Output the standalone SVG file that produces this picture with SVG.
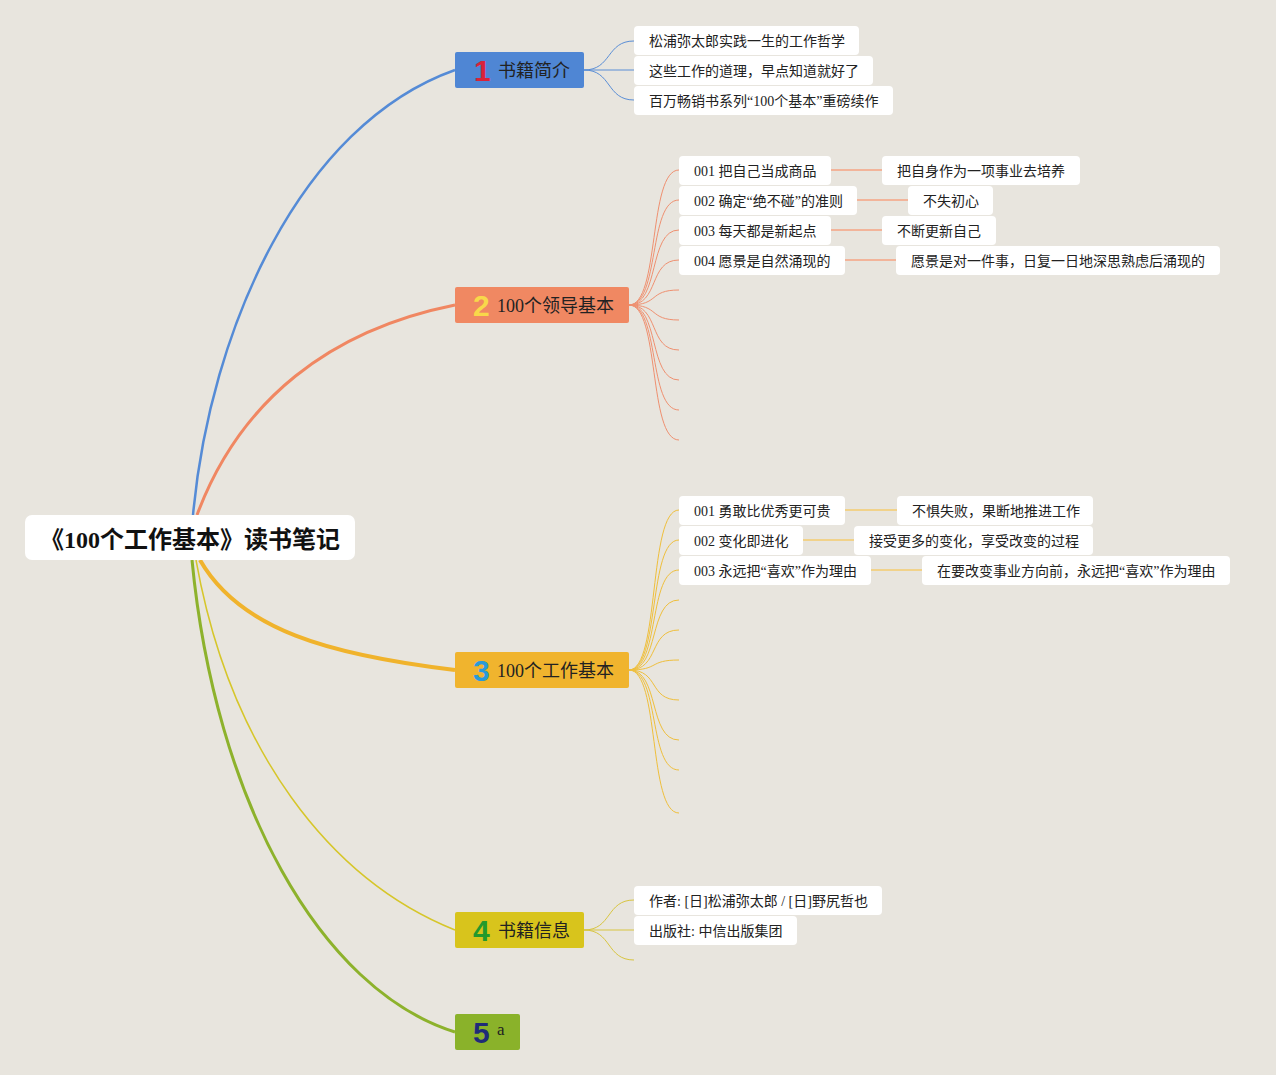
<svg xmlns="http://www.w3.org/2000/svg" width="1276" height="1075" viewBox="0 0 1276 1075">
<style>
.leaf{fill:#ffffff;}
.lt{font-family:"Liberation Serif","Noto Sans CJK SC",serif;font-size:14px;fill:#222;}
.bt{font-family:"Liberation Serif","Noto Sans CJK SC",serif;font-size:18px;fill:#222;}
.num{font-family:"Liberation Sans","DejaVu Sans",sans-serif;font-size:30px;font-weight:bold;}
.root{font-family:"Liberation Serif","Noto Sans CJK SC",serif;font-size:24px;font-weight:bold;fill:#111;}
.c1{fill:none;stroke:#5a8ed6;stroke-width:1;}
.c2{fill:none;stroke:#ef9070;stroke-width:1;}
.c3{fill:none;stroke:#efbf3c;stroke-width:1;}
.c4{fill:none;stroke:#d8c540;stroke-width:1;}
.s2{fill:none;stroke:#f2b49a;stroke-width:2;}
.s3{fill:none;stroke:#f1d28a;stroke-width:2;}
</style>
<rect x="0" y="0" width="1276" height="1075" fill="#e8e5de"/>
<g id="connectors">
<path d="M193,515 C210,330 300,125 455,70" fill="none" stroke="#558bd6" stroke-width="2.5"/>
<path d="M197,515 C240,400 330,330 455,305" fill="none" stroke="#f08762" stroke-width="3"/>
<path d="M200,560 C240,630 330,655 455,670" fill="none" stroke="#f0b32c" stroke-width="4"/>
<path d="M196,560 C230,750 330,880 455,930" fill="none" stroke="#d6c62a" stroke-width="1.5"/>
<path d="M192,560 C215,800 320,990 455,1032" fill="none" stroke="#8db22c" stroke-width="3"/>
<path class="c1" d="M584,70 C612,70 606,41 634,41"/>
<path class="c1" d="M584,70 L634,70"/>
<path class="c1" d="M584,70 C612,70 606,100 634,100"/>
<path class="c2" d="M629,305 C660,305 648,170 679,170"/>
<path class="c2" d="M629,305 C660,305 648,200 679,200"/>
<path class="c2" d="M629,305 C660,305 648,230 679,230"/>
<path class="c2" d="M629,305 C660,305 648,260 679,260"/>
<path class="c2" d="M629,305 C660,305 648,290 679,290"/>
<path class="c2" d="M629,305 C660,305 648,320 679,320"/>
<path class="c2" d="M629,305 C660,305 648,350 679,350"/>
<path class="c2" d="M629,305 C660,305 648,380 679,380"/>
<path class="c2" d="M629,305 C660,305 648,410 679,410"/>
<path class="c2" d="M629,305 C660,305 648,440 679,440"/>
<path class="s2" d="M831,170 L882,170"/>
<path class="s2" d="M857,200 L908,200"/>
<path class="s2" d="M831,230 L882,230"/>
<path class="s2" d="M845,260 L896,260"/>
<path class="c3" d="M629,670 C660,670 648,510 679,510"/>
<path class="c3" d="M629,670 C660,670 648,540 679,540"/>
<path class="c3" d="M629,670 C660,670 648,570 679,570"/>
<path class="c3" d="M629,670 C660,670 648,600 679,600"/>
<path class="c3" d="M629,670 C660,670 648,630 679,630"/>
<path class="c3" d="M629,670 C660,670 648,660 679,660"/>
<path class="c3" d="M629,670 C660,670 648,700 679,700"/>
<path class="c3" d="M629,670 C660,670 648,740 679,740"/>
<path class="c3" d="M629,670 C660,670 648,770 679,770"/>
<path class="c3" d="M629,670 C660,670 648,813 679,813"/>
<path class="s3" d="M845,510 L897,510"/>
<path class="s3" d="M803,540 L854,540"/>
<path class="s3" d="M871,570 L922,570"/>
<path class="c4" d="M584,930 C612,930 606,900 634,900"/>
<path class="c4" d="M584,930 L634,930"/>
<path class="c4" d="M584,930 C612,930 606,960 634,960"/>
</g>
<g id="root">
<rect x="25" y="515" width="330" height="45" rx="7" fill="#ffffff"/>
<text class="root" x="190" y="548" text-anchor="middle">《100个工作基本》读书笔记</text>
</g>
<g id="b1">
<rect x="455" y="52" width="129" height="36" rx="2" fill="#4f86d4"/>
<text class="num" x="474" y="81" fill="#d8233a">1</text>
<text class="bt" x="498" y="77">书籍简介</text>
</g>
<g id="b2">
<rect x="455" y="287" width="174" height="36" rx="2" fill="#f08862"/>
<text class="num" x="473" y="316" fill="#f8d84a">2</text>
<text class="bt" x="497" y="312">100个领导基本</text>
</g>
<g id="b3">
<rect x="455" y="652" width="174" height="36" rx="2" fill="#f0b42e"/>
<text class="num" x="473" y="681" fill="#2a9ad8">3</text>
<text class="bt" x="497" y="677">100个工作基本</text>
</g>
<g id="b4">
<rect x="455" y="912" width="129" height="36" rx="2" fill="#d8c41c"/>
<text class="num" x="473" y="941" fill="#23992c">4</text>
<text class="bt" x="498" y="937">书籍信息</text>
</g>
<g id="b5">
<rect x="455" y="1014" width="65" height="36" rx="2" fill="#8ab22a"/>
<text class="num" x="473" y="1043" fill="#1f2b78">5</text>
<text class="lt" x="497" y="1035" style="font-size:17px">a</text>
</g>
<g id="l1a"><rect class="leaf" x="634" y="26" width="225" height="29" rx="4"/><text class="lt" x="649" y="46">松浦弥太郎实践一生的工作哲学</text></g>
<g id="l1b"><rect class="leaf" x="634" y="56" width="239" height="29" rx="4"/><text class="lt" x="649" y="76">这些工作的道理，早点知道就好了</text></g>
<g id="l1c"><rect class="leaf" x="634" y="86" width="259" height="29" rx="4"/><text class="lt" x="649" y="106">百万畅销书系列“100个基本”重磅续作</text></g>
<g id="l2a"><rect class="leaf" x="679" y="156" width="152" height="29" rx="4"/><text class="lt" x="694" y="176">001 把自己当成商品</text></g>
<g id="l2b"><rect class="leaf" x="679" y="186" width="178" height="29" rx="4"/><text class="lt" x="694" y="206">002 确定“绝不碰”的准则</text></g>
<g id="l2c"><rect class="leaf" x="679" y="216" width="152" height="29" rx="4"/><text class="lt" x="694" y="236">003 每天都是新起点</text></g>
<g id="l2d"><rect class="leaf" x="679" y="246" width="166" height="29" rx="4"/><text class="lt" x="694" y="266">004 愿景是自然涌现的</text></g>
<g id="l2a1"><rect class="leaf" x="882" y="156" width="198" height="29" rx="4"/><text class="lt" x="897" y="176">把自身作为一项事业去培养</text></g>
<g id="l2b1"><rect class="leaf" x="908" y="186" width="85" height="29" rx="4"/><text class="lt" x="923" y="206">不失初心</text></g>
<g id="l2c1"><rect class="leaf" x="882" y="216" width="114" height="29" rx="4"/><text class="lt" x="897" y="236">不断更新自己</text></g>
<g id="l2d1"><rect class="leaf" x="896" y="246" width="324" height="29" rx="4"/><text class="lt" x="911" y="266">愿景是对一件事，日复一日地深思熟虑后涌现的</text></g>
<g id="l3a"><rect class="leaf" x="679" y="496" width="166" height="29" rx="4"/><text class="lt" x="694" y="516">001 勇敢比优秀更可贵</text></g>
<g id="l3b"><rect class="leaf" x="679" y="526" width="124" height="29" rx="4"/><text class="lt" x="694" y="546">002 变化即进化</text></g>
<g id="l3c"><rect class="leaf" x="679" y="556" width="192" height="29" rx="4"/><text class="lt" x="694" y="576">003 永远把“喜欢”作为理由</text></g>
<g id="l3a1"><rect class="leaf" x="897" y="496" width="196" height="29" rx="4"/><text class="lt" x="912" y="516">不惧失败，果断地推进工作</text></g>
<g id="l3b1"><rect class="leaf" x="854" y="526" width="239" height="29" rx="4"/><text class="lt" x="869" y="546">接受更多的变化，享受改变的过程</text></g>
<g id="l3c1"><rect class="leaf" x="922" y="556" width="308" height="29" rx="4"/><text class="lt" x="937" y="576">在要改变事业方向前，永远把“喜欢”作为理由</text></g>
<g id="l4a"><rect class="leaf" x="634" y="886" width="248" height="29" rx="4"/><text class="lt" x="649" y="906">作者: [日]松浦弥太郎 / [日]野尻哲也</text></g>
<g id="l4b"><rect class="leaf" x="634" y="916" width="163" height="29" rx="4"/><text class="lt" x="649" y="936">出版社: 中信出版集团</text></g>
</svg>
